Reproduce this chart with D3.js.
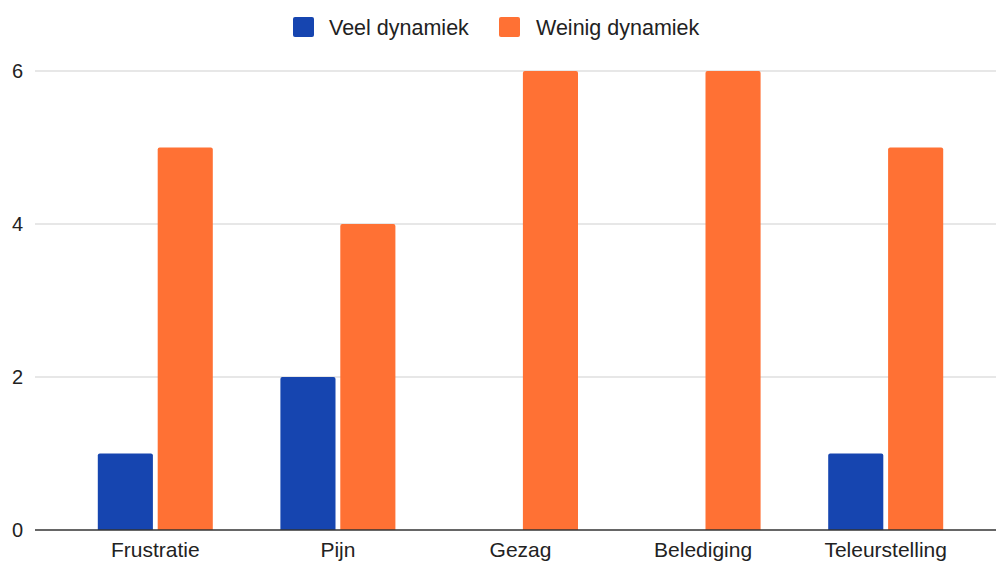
<!DOCTYPE html>
<html>
<head>
<meta charset="utf-8">
<script src="https://cdn.jsdelivr.net/npm/d3@7/dist/d3.min.js"></script>
<style>
  html, body { margin: 0; padding: 0; background: #fff; }
  svg { display: block; font-family: "Liberation Sans", Arial, sans-serif; }
</style>
</head>
<body>
<svg id="chart" width="996" height="561"></svg>
<script>
const categories = ["Frustratie", "Pijn", "Gezag", "Belediging", "Teleurstelling"];
const seriesNames = ["Veel dynamiek", "Weinig dynamiek"];
const veelDynamiek = [1, 2, 0, 0, 1];
const weinigDynamiek = [5, 4, 6, 6, 5];
const yTicks = [0, 2, 4, 6];
const colors = ["#1645b0", "#ff7134"];

const svg = d3.select("#chart");
const gridLeft = 35, gridRight = 996;
const plotTop = 71, plotBottom = 530;

const x = d3.scaleBand().domain(categories).range([64, 977]).paddingInner(0).paddingOuter(0);
const y = d3.scaleLinear().domain([0, 6]).range([plotBottom, plotTop]);
const groupW = 115;
const xs = d3.scaleBand().domain(seriesNames).range([0, groupW]).paddingInner(0.08);

// gridlines
svg.append("g").selectAll("line").data(yTicks.filter(t => t !== 0)).join("line")
  .attr("x1", gridLeft).attr("x2", gridRight)
  .attr("y1", d => y(d)).attr("y2", d => y(d))
  .attr("stroke", "#cfcfcf").attr("stroke-width", 1);

// y tick labels
svg.append("g").selectAll("text").data(yTicks).join("text")
  .attr("x", 23).attr("y", d => y(d)).attr("dy", "0.35em")
  .attr("text-anchor", "end").attr("font-size", 20).attr("fill", "#222")
  .text(d => d);

// bars
const series = [veelDynamiek, weinigDynamiek];
const rows = categories.map((c, i) => ({ c, vals: series.map((s, k) => ({ name: seriesNames[k], v: s[i], k })) }));
const groups = svg.append("g").selectAll("g").data(rows).join("g")
  .attr("transform", d => `translate(${x(d.c) + x.bandwidth() / 2 - groupW / 2},0)`);

function barPath(x0, w, yTop, yBot, r) {
  const h = yBot - yTop;
  if (h <= 0) return "";
  r = Math.min(r, h, w / 2);
  return `M${x0},${yBot}V${yTop + r}Q${x0},${yTop} ${x0 + r},${yTop}H${x0 + w - r}Q${x0 + w},${yTop} ${x0 + w},${yTop + r}V${yBot}Z`;
}

groups.selectAll("path").data(d => d.vals).join("path")
  .attr("d", d => barPath(xs(d.name), xs.bandwidth(), y(d.v), y(0), 2))
  .attr("fill", d => colors[d.k]);

// baseline
svg.append("line")
  .attr("x1", gridLeft).attr("x2", gridRight)
  .attr("y1", y(0)).attr("y2", y(0))
  .attr("stroke", "#333").attr("stroke-width", 1.3);

// x labels
svg.append("g").selectAll("text").data(categories).join("text")
  .attr("x", d => x(d) + x.bandwidth() / 2).attr("y", 557)
  .attr("text-anchor", "middle").attr("font-size", 21).attr("fill", "#222")
  .text(d => d);

// legend
const legendItems = [
  { name: seriesNames[0], sx: 293, tx: 329 },
  { name: seriesNames[1], sx: 499, tx: 536 }
];
const lg = svg.append("g");
legendItems.forEach((it, k) => {
  lg.append("rect").attr("x", it.sx).attr("y", 17).attr("width", 21).attr("height", 20)
    .attr("rx", 2).attr("fill", colors[k]);
  lg.append("text").attr("x", it.tx).attr("y", 27).attr("dy", "0.35em")
    .attr("font-size", 21.5).attr("fill", "#222").text(it.name);
});
</script>
</body>
</html>
